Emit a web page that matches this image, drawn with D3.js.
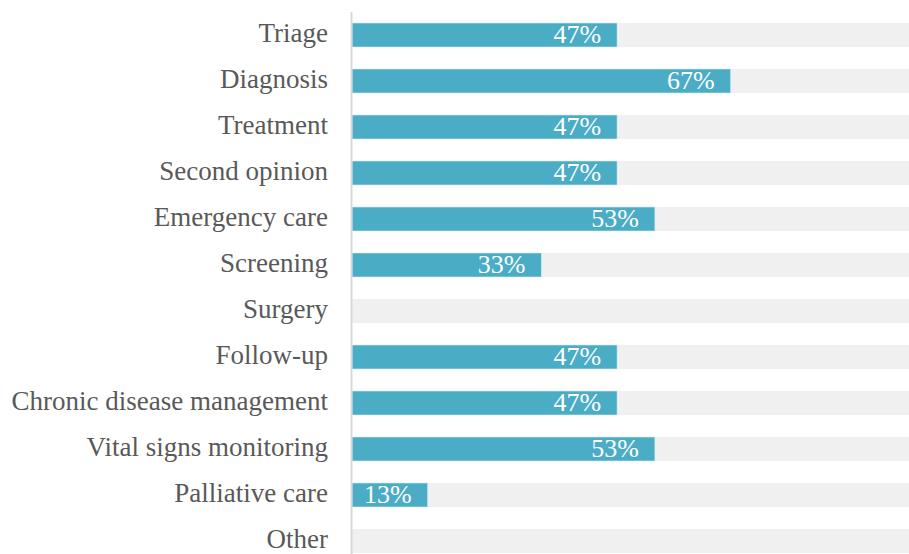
<!DOCTYPE html>
<html>
<head>
<meta charset="utf-8">
<script src="https://cdn.jsdelivr.net/npm/d3@7"></script>
<style>
  body { margin: 0; background: #fff; }
  svg { display: block; }
</style>
</head>
<body>
<svg width="909" height="554"></svg>
<script>
// categories and share of respondents (n = 15)
const categories = ["Triage", "Diagnosis", "Treatment", "Second opinion", "Emergency care",
  "Screening", "Surgery", "Follow-up", "Chronic disease management",
  "Vital signs monitoring", "Palliative care", "Other"];
const values = [0.4667, 0.6667, 0.4667, 0.4667, 0.5333, 0.3333, 0, 0.4667, 0.4667, 0.5333, 0.1333, 0];
const valueLabels = ["47%", "67%", "47%", "47%", "53%", "33%", "", "47%", "47%", "53%", "13%", ""];

let svg = d3.select("svg");
let left = 352;
let font = "'Liberation Serif', 'DejaVu Serif', serif";

let x = d3.scaleLinear().domain([0, 1]).range([left, left + 568]);
let y = d3.scaleBand().domain(categories).range([12, 564]).paddingInner(0.478).paddingOuter(0.239);

let rows = svg.append("g").selectAll("g")
  .data(categories)
  .enter().append("g");

// gray track
rows.append("rect")
  .attr("x", x(0))
  .attr("y", d => y(d))
  .attr("width", x(1) - x(0))
  .attr("height", y.bandwidth())
  .style("fill", "#f0f0f0");

// value bar
rows.append("rect")
  .attr("x", x(0))
  .attr("y", d => y(d))
  .attr("width", (d, i) => x(values[i]) - x(0))
  .attr("height", y.bandwidth())
  .style("fill", "#4bacc6")
  .style("stroke", (d, i) => values[i] > 0 ? "#d6eef5" : "none")
  .style("stroke-width", 0.6);

rows.append("text")
  .attr("x", (d, i) => x(values[i]) - 16)
  .attr("y", d => y(d) + y.bandwidth() / 2)
  .attr("dy", "0.3em")
  .attr("text-anchor", "end")
  .style("font-family", font)
  .style("font-size", "26px")
  .style("fill", "#fff")
  .text((d, i) => valueLabels[i]);

// category labels
rows.append("text")
  .attr("x", left - 24)
  .attr("y", d => y(d) + y.bandwidth() / 2)
  .attr("dy", "0.25em")
  .attr("text-anchor", "end")
  .style("font-family", font)
  .style("font-size", "27px")
  .style("fill", "#595959")
  .text(d => d);

// axis line
svg.append("line")
  .attr("x1", left - 0.5).attr("x2", left - 0.5)
  .attr("y1", 12).attr("y2", 554)
  .style("stroke", "#d9d9d9")
  .style("stroke-width", 2);
</script>
</body>
</html>
